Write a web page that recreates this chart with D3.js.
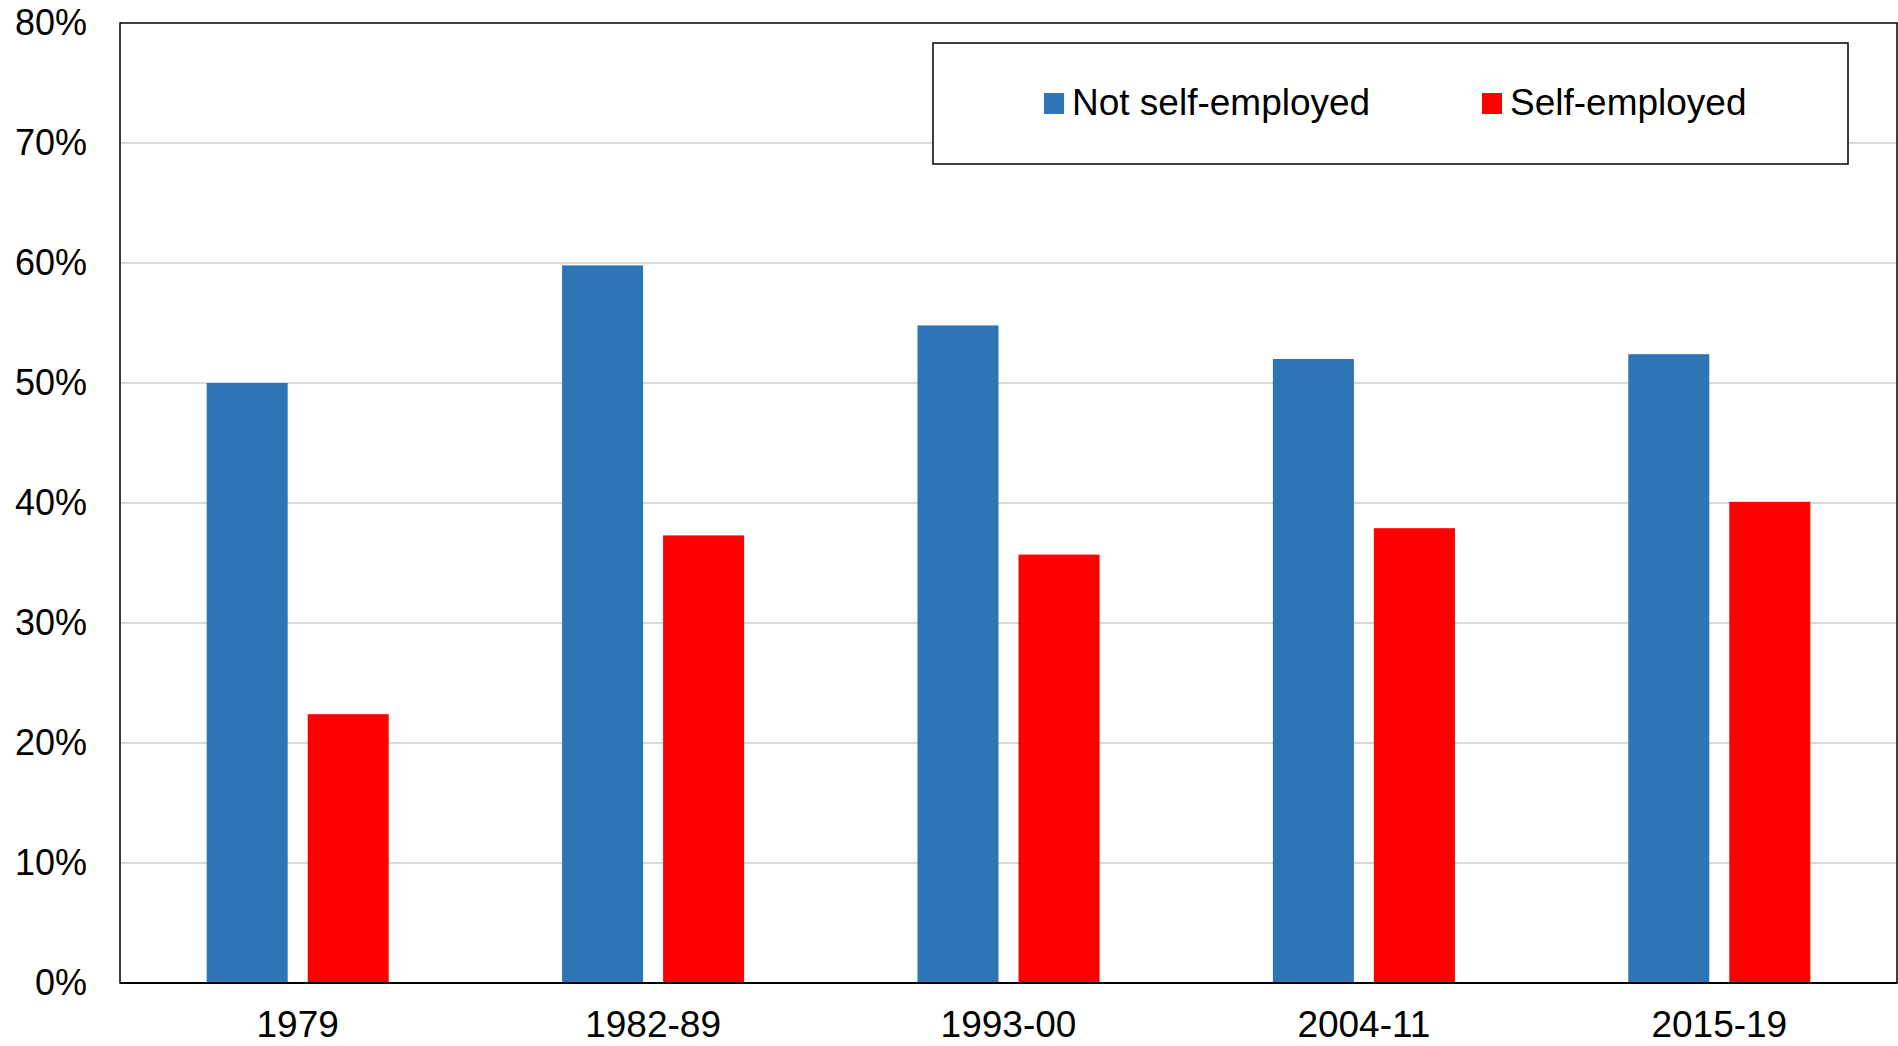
<!DOCTYPE html>
<html>
<head>
<meta charset="utf-8">
<script src="https://cdn.jsdelivr.net/npm/d3@7"></script>
<style>
  html, body { margin: 0; padding: 0; background: #fff; }
  svg { display: block; font-family: "Liberation Sans", Arial, sans-serif; }
</style>
</head>
<body>
<svg id="chart" width="1898" height="1046"></svg>
<script>
const categories = ["1979", "1982-89", "1993-00", "2004-11", "2015-19"];
const seriesNames = ["Not self-employed", "Self-employed"];
const notSelfEmployed = [0.500, 0.598, 0.548, 0.520, 0.524];
const selfEmployed = [0.224, 0.373, 0.357, 0.379, 0.401];
const yTicks = [0, 0.1, 0.2, 0.3, 0.4, 0.5, 0.6, 0.7, 0.8];
const colors = ["#2E75B6", "#FF0000"];

(function () {
const svg = d3.select("#chart");
const mLeft = 120, mRight = 1897, mTop = 23, mBottom = 983;

const x0 = d3.scaleBand().domain(categories).range([mLeft, mRight]).paddingInner(0).paddingOuter(0);
const x1 = d3.scaleBand().domain(seriesNames).range([0, x0.bandwidth()])
  .paddingInner(0.198).paddingOuter(0.858);
const y = d3.scaleLinear().domain([0, 0.8]).range([mBottom, mTop]);

// gridlines
svg.append("g").selectAll("line").data(yTicks.filter(d => d > 0 && d < 0.8)).join("line")
  .attr("x1", mLeft).attr("x2", mRight)
  .attr("y1", d => y(d)).attr("y2", d => y(d))
  .attr("stroke", "#d9d9d9").attr("stroke-width", 2);

// bars
const data = categories.map((c, i) => ({ cat: c, values: [notSelfEmployed[i], selfEmployed[i]] }));
const groups = svg.append("g").selectAll("g").data(data).join("g")
  .attr("transform", d => `translate(${x0(d.cat)},0)`);
groups.selectAll("rect").data(d => d.values.map((v, j) => ({ name: seriesNames[j], v, j })))
  .join("rect")
  .attr("x", d => x1(d.name))
  .attr("width", x1.bandwidth())
  .attr("y", d => y(d.v))
  .attr("height", d => y(0) - y(d.v))
  .attr("fill", d => colors[d.j]);

// plot border
svg.append("rect").attr("x", mLeft).attr("y", mTop)
  .attr("width", mRight - mLeft).attr("height", mBottom - mTop)
  .attr("fill", "none").attr("stroke", "#000").attr("stroke-width", 1.5);
svg.append("line").attr("x1", mLeft).attr("x2", mRight).attr("y1", mBottom).attr("y2", mBottom)
  .attr("stroke", "#000").attr("stroke-width", 2);

// y axis
const yAxis = d3.axisLeft(y).tickValues(yTicks).tickFormat(d3.format(".0%")).tickSize(0).tickPadding(33);
const ya = svg.append("g").attr("transform", `translate(${mLeft},0)`).call(yAxis);
ya.select(".domain").remove();
ya.selectAll("text").attr("font-size", 36).attr("fill", "#000")
  .attr("font-family", "'Liberation Sans', Arial, sans-serif");

// x axis
const xAxis = d3.axisBottom(x0).tickSize(0).tickPadding(28);
const xa = svg.append("g").attr("transform", `translate(0,${mBottom})`).call(xAxis);
xa.select(".domain").remove();
xa.selectAll("text").attr("font-size", 37).attr("fill", "#000")
  .attr("font-family", "'Liberation Sans', Arial, sans-serif");

// legend
const lg = svg.append("g");
lg.append("rect").attr("x", 933).attr("y", 43).attr("width", 915).attr("height", 121)
  .attr("fill", "#fff").attr("stroke", "#000").attr("stroke-width", 1.5);
const legendX = [1044, 1482];
seriesNames.forEach((name, i) => {
  lg.append("rect").attr("x", legendX[i]).attr("y", 93).attr("width", 20).attr("height", 21)
    .attr("fill", colors[i]);
  lg.append("text").attr("x", legendX[i] + 28).attr("y", 115)
    .attr("font-size", 37).attr("fill", "#000")
    .attr("font-family", "'Liberation Sans', Arial, sans-serif").text(name);
});
})();
</script>
</body>
</html>
